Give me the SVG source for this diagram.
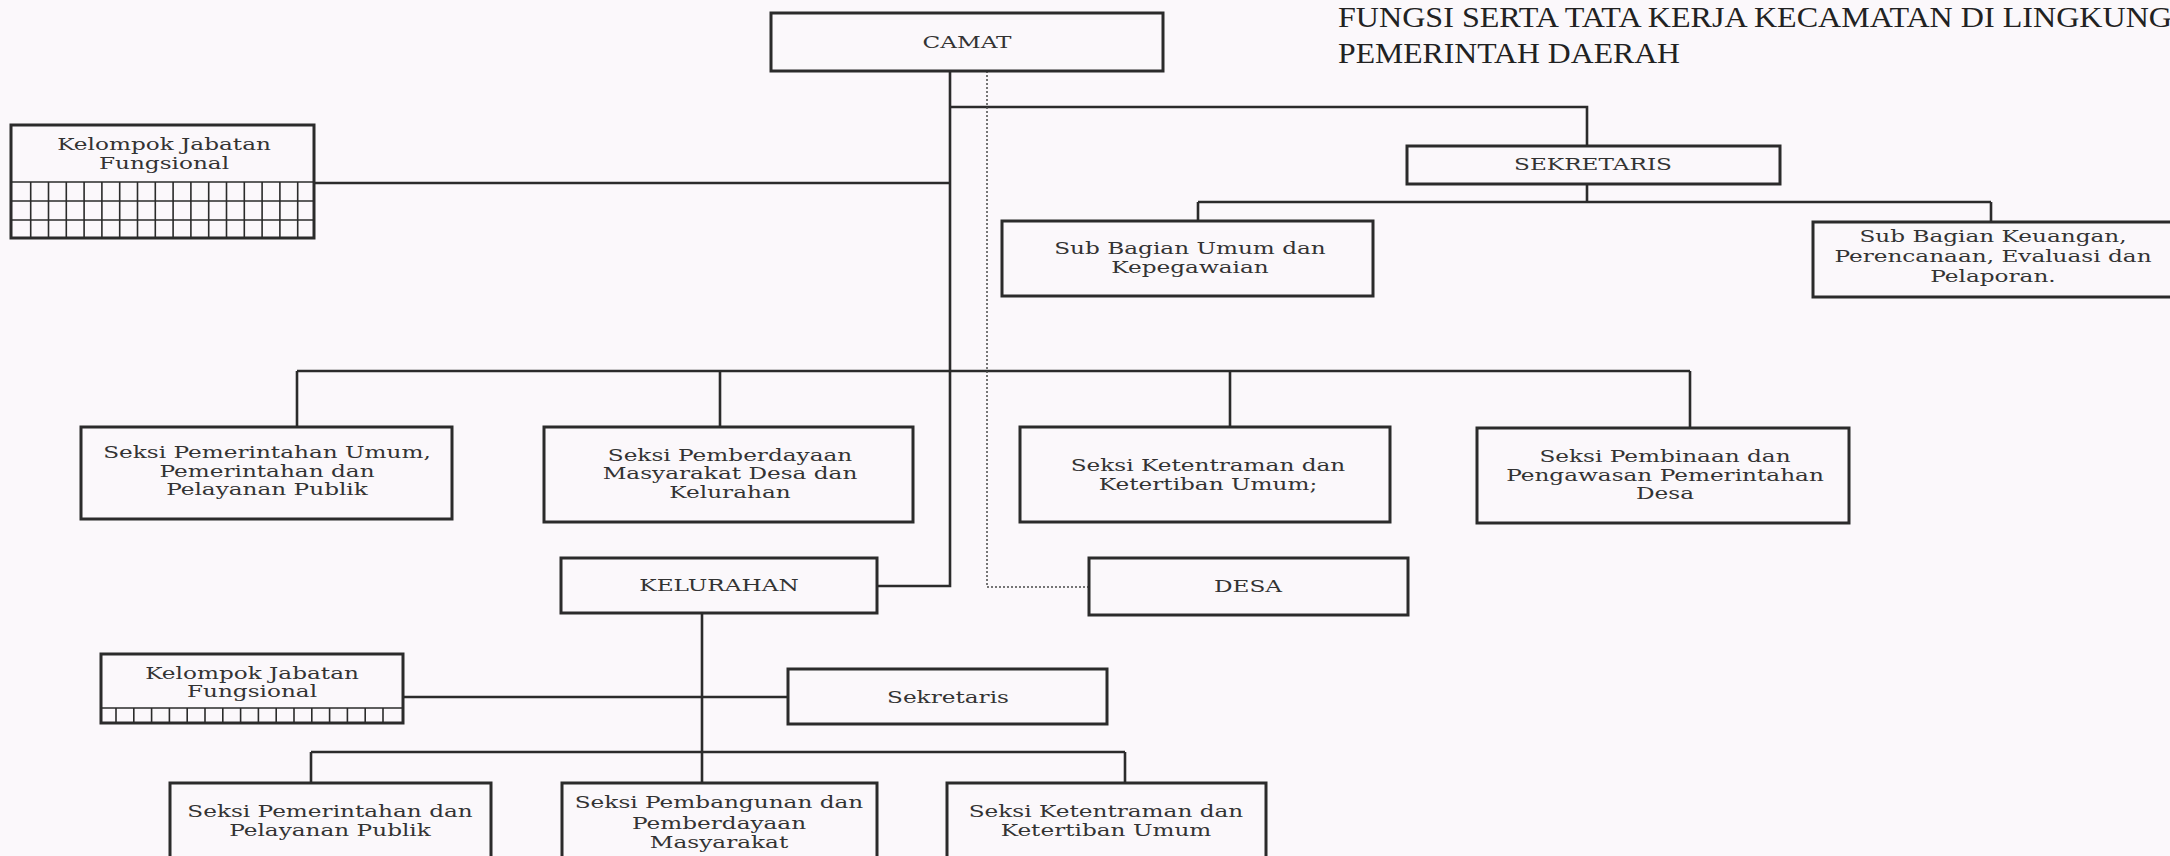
<svg xmlns="http://www.w3.org/2000/svg" width="2170" height="856" viewBox="0 0 2170 856">
<style>
.bg{fill:#fbf8fb}
.box{fill:none;stroke:#2b2b2b;stroke-width:3}
.ln{fill:none;stroke:#2b2b2b;stroke-width:2.6}
.grid{fill:none;stroke:#2b2b2b;stroke-width:1.6}
.dot{fill:none;stroke:#4a4a4a;stroke-width:1.5;stroke-dasharray:2 2}
.t{font-family:"DejaVu Serif","Liberation Serif",serif;font-size:16px;fill:#333;text-anchor:middle}
.title{font-family:"Liberation Serif",serif;font-size:29px;fill:#222}
</style>
<rect class="bg" x="0" y="0" width="2170" height="856"/>

<g id="title">
<text class="title" x="1338" y="27" textLength="834" lengthAdjust="spacingAndGlyphs">FUNGSI SERTA TATA KERJA KECAMATAN DI LINGKUNG</text>
<text class="title" x="1338" y="63" textLength="342" lengthAdjust="spacingAndGlyphs">PEMERINTAH DAERAH</text>
</g>

<g id="connectors">
<path class="ln" d="M950 71 V586 H877"/>
<path class="ln" d="M314 183 H950"/>
<path class="ln" d="M950 107 H1587 V146"/>
<path class="ln" d="M1587 184 V202 M1198 202 H1991 M1198 202 V221 M1991 202 V222"/>
<path class="ln" d="M297 371 H1690 M297 371 V427 M720 371 V427 M1230 371 V427 M1690 371 V428"/>
<path class="ln" d="M702 613 V783 M403 697 H788 M311 752 H1125 M311 752 V783 M1125 752 V783"/>
<path class="dot" d="M987 71 V587 H1089"/>
</g>

<g id="camat">
<rect class="box" x="771" y="13" width="392" height="58"/>
<text class="t" transform="translate(967 48) scale(1.45 1)">CAMAT</text>
</g>

<g id="kjf1">
<rect class="box" x="11" y="125" width="303" height="113"/>
<path class="grid" d="M11 182 H314 M11 201 H314 M11 220 H314 M30.7 182 V238 M48.5 182 V238 M66.3 182 V238 M84.1 182 V238 M101.9 182 V238 M119.7 182 V238 M137.5 182 V238 M155.3 182 V238 M173.1 182 V238 M190.9 182 V238 M208.7 182 V238 M226.5 182 V238 M244.3 182 V238 M262.1 182 V238 M279.9 182 V238 M297.7 182 V238"/>
<text class="t" transform="translate(164 150) scale(1.45 1)">Kelompok Jabatan</text>
<text class="t" transform="translate(164 169) scale(1.45 1)">Fungsional</text>
</g>

<g id="sekretaris">
<rect class="box" x="1407" y="146" width="373" height="38"/>
<text class="t" transform="translate(1593 170) scale(1.45 1)">SEKRETARIS</text>
</g>

<g id="subbag-umum">
<rect class="box" x="1002" y="221" width="371" height="75"/>
<text class="t" transform="translate(1190 254) scale(1.45 1)">Sub Bagian Umum dan</text>
<text class="t" transform="translate(1190 273) scale(1.45 1)">Kepegawaian</text>
</g>

<g id="subbag-keuangan">
<rect class="box" x="1813" y="222" width="370" height="75"/>
<text class="t" transform="translate(1993 242) scale(1.45 1)">Sub Bagian Keuangan,</text>
<text class="t" transform="translate(1993 262) scale(1.45 1)">Perencanaan, Evaluasi dan</text>
<text class="t" transform="translate(1993 282) scale(1.45 1)">Pelaporan.</text>
</g>

<g id="seksi-pemum">
<rect class="box" x="81" y="427" width="371" height="92"/>
<text class="t" transform="translate(267 458) scale(1.45 1)">Seksi Pemerintahan Umum,</text>
<text class="t" transform="translate(267 477) scale(1.45 1)">Pemerintahan dan</text>
<text class="t" transform="translate(267 495) scale(1.45 1)">Pelayanan Publik</text>
</g>

<g id="seksi-pmd">
<rect class="box" x="544" y="427" width="369" height="95"/>
<text class="t" transform="translate(730 461) scale(1.45 1)">Seksi Pemberdayaan</text>
<text class="t" transform="translate(730 479) scale(1.45 1)">Masyarakat Desa dan</text>
<text class="t" transform="translate(730 498) scale(1.45 1)">Kelurahan</text>
</g>

<g id="seksi-trantib">
<rect class="box" x="1020" y="427" width="370" height="95"/>
<text class="t" transform="translate(1208 471) scale(1.45 1)">Seksi Ketentraman dan</text>
<text class="t" transform="translate(1208 490) scale(1.45 1)">Ketertiban Umum;</text>
</g>

<g id="seksi-pembinaan">
<rect class="box" x="1477" y="428" width="372" height="95"/>
<text class="t" transform="translate(1665 462) scale(1.45 1)">Seksi Pembinaan dan</text>
<text class="t" transform="translate(1665 481) scale(1.45 1)">Pengawasan Pemerintahan</text>
<text class="t" transform="translate(1665 499) scale(1.45 1)">Desa</text>
</g>

<g id="kelurahan">
<rect class="box" x="561" y="558" width="316" height="55"/>
<text class="t" transform="translate(719 591) scale(1.45 1)">KELURAHAN</text>
</g>

<g id="desa">
<rect class="box" x="1089" y="558" width="319" height="57"/>
<text class="t" transform="translate(1248 592) scale(1.45 1)">DESA</text>
</g>

<g id="kjf2">
<rect class="box" x="101" y="654" width="302" height="69"/>
<path class="grid" d="M101 708 H403 M116 708 V723 M133.8 708 V723 M151.6 708 V723 M169.4 708 V723 M187.2 708 V723 M205 708 V723 M222.8 708 V723 M240.6 708 V723 M258.4 708 V723 M276.2 708 V723 M294 708 V723 M311.8 708 V723 M329.6 708 V723 M347.4 708 V723 M365.2 708 V723 M383 708 V723"/>
<text class="t" transform="translate(252 679) scale(1.45 1)">Kelompok Jabatan</text>
<text class="t" transform="translate(252 697) scale(1.45 1)">Fungsional</text>
</g>

<g id="sekretaris-kel">
<rect class="box" x="788" y="669" width="319" height="55"/>
<text class="t" transform="translate(948 703) scale(1.45 1)">Sekretaris</text>
</g>

<g id="kel-seksi-pem">
<rect class="box" x="170" y="783" width="321" height="90"/>
<text class="t" transform="translate(330 817) scale(1.45 1)">Seksi Pemerintahan dan</text>
<text class="t" transform="translate(330 836) scale(1.45 1)">Pelayanan Publik</text>
</g>

<g id="kel-seksi-pmb">
<rect class="box" x="562" y="783" width="315" height="90"/>
<text class="t" transform="translate(719 808) scale(1.45 1)">Seksi Pembangunan dan</text>
<text class="t" transform="translate(719 829) scale(1.45 1)">Pemberdayaan</text>
<text class="t" transform="translate(719 848) scale(1.45 1)">Masyarakat</text>
</g>

<g id="kel-seksi-trantib">
<rect class="box" x="947" y="783" width="319" height="90"/>
<text class="t" transform="translate(1106 817) scale(1.45 1)">Seksi Ketentraman dan</text>
<text class="t" transform="translate(1106 836) scale(1.45 1)">Ketertiban Umum</text>
</g>
</svg>
